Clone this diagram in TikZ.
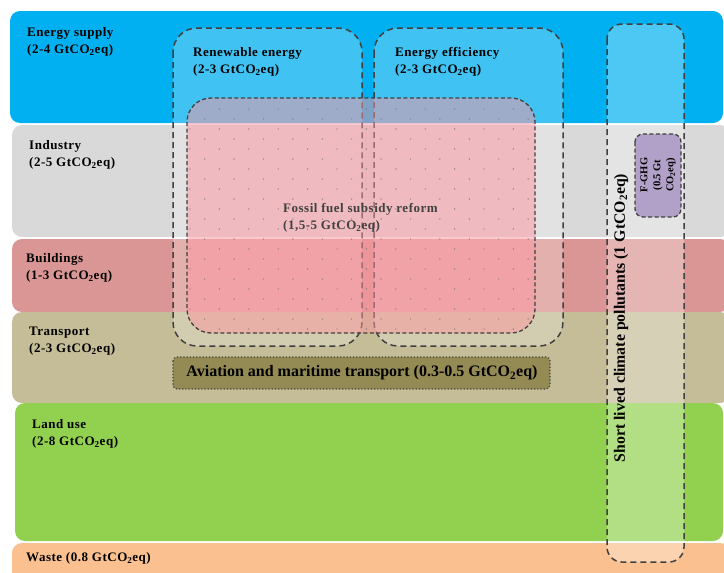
\documentclass[tikz,border=0pt]{standalone}
\usepackage{fontspec}
\setmainfont{Liberation Serif}
\newfontfamily\sectorfont[LetterSpace=4]{Liberation Serif}
\usetikzlibrary{positioning}
\definecolor{mitisupply}{RGB}{0,176,240}
\definecolor{mitiindustry}{RGB}{217,217,217}
\definecolor{mitibuild}{RGB}{218,150,148}
\definecolor{mititransport}{RGB}{196,189,151}
\definecolor{mitiland}{RGB}{146,208,80}
\definecolor{mitiwaste}{RGB}{250,192,143}
\definecolor{mitipink}{RGB}{255,150,160}
\definecolor{mitipurple}{RGB}{177,160,199}
\definecolor{mitiolive}{RGB}{148,138,84}
\definecolor{mitiline}{RGB}{64,64,64}
\newcommand{\GtCOeq}{GtCO\textsubscript{2}eq}

\begin{document}
\begin{tikzpicture}[x=1pt,y=-1pt,
  every node/.style={font=\sectorfont\bfseries\fontsize{13}{17}\selectfont,align=left,inner sep=0pt},
  band/.style={rounded corners=10pt},
  grouping/.style={draw=mitiline,line width=1.5pt,dash pattern=on 6pt off 4pt,rounded corners=24pt}]
\useasboundingbox (0,0) rectangle (724,573);
% sector bands
\fill[mitisupply,band] (10,11) rectangle (723,123);
\fill[mitiindustry,band] (12,125) rectangle (730,237);
\fill[mitibuild,band] (12,239) rectangle (730,312);
\fill[mititransport,band] (12,312) rectangle (730,403);
\fill[mitiland,band] (15,403) rectangle (723,541);
\fill[mitiwaste,band] (12,543) rectangle (730,590);
\node[anchor=north west] (supply) at (27,27.5) {Energy supply\\(2-4 \GtCOeq)};
\node[anchor=north west] (industry) at (29,140.5) {Industry\\(2-5 \GtCOeq)};
\node[anchor=north west] (buildings) at (26,253.5) {Buildings\\(1-3 \GtCOeq)};
\node[anchor=north west] (transport) at (29,326.5) {Transport\\(2-3 \GtCOeq)};
\node[anchor=north west] (landuse) at (32,419.5) {Land use\\(2-8 \GtCOeq)};
\node[anchor=north west] (waste) at (26,552) {Waste (0.8 \GtCOeq)};
% measures
\draw[grouping,fill=white,fill opacity=0.25] (173,28) rectangle (362,346);
\draw[grouping,fill=white,fill opacity=0.25] (374,28) rectangle (563,346);
\node[anchor=north west] (renewable) at (193,47.5) {Renewable energy\\(2-3 \GtCOeq)};
\node[anchor=north west] (efficiency) at (395,47.5) {Energy efficiency\\(2-3 \GtCOeq)};
\fill[mitipink,opacity=0.5,rounded corners=24pt] (187,98) rectangle (535,333);
\begin{scope}
\clip[rounded corners=24pt] (187,98) rectangle (535,333);
\foreach \r in {0,...,23}{
  \pgfmathsetmacro{\shift}{mod(\r,2)*14.7}
  \foreach \c in {0,...,12}
    \fill[mitiline!70] (190+\shift+\c*29.4,109+\r*10) circle (0.7);
}
\end{scope}
\draw[draw=mitiline,line width=1.3pt,dash pattern=on 4pt off 2.5pt,rounded corners=24pt] (187,98) rectangle (535,333);
\node[anchor=north west,text=mitiline] (fossil) at (283,203.5) {Fossil fuel subsidy reform\\(1,5-5 \GtCOeq)};
\draw[grouping,rounded corners=15pt,fill=white,fill opacity=0.3] (607,24) rectangle (684,562);
\node[rotate=90,font=\bfseries\fontsize{15.8}{18}\selectfont] (slcp) at (621,318) {Short lived climate pollutants (1 \GtCOeq)};
\draw[grouping,rounded corners=8pt,line width=1.3pt,dash pattern=on 4pt off 2.5pt,fill=mitipurple] (635,134) rectangle (681,217);
\node[rotate=90,align=center,font=\bfseries\fontsize{10.5}{13}\selectfont] (fghg) at (658,175) {F-GHG\\(0.5 Gt\\CO\textsubscript{2}eq)};
\draw[draw=mitiline,line width=1.2pt,dotted,rounded corners=4pt,fill=mitiolive] (173,357) rectangle (550,389);
\node[font=\bfseries\fontsize{16}{18}\selectfont] (aviation) at (362,373) {Aviation and maritime transport (0.3-0.5 \GtCOeq)};
\end{tikzpicture}
\end{document}
